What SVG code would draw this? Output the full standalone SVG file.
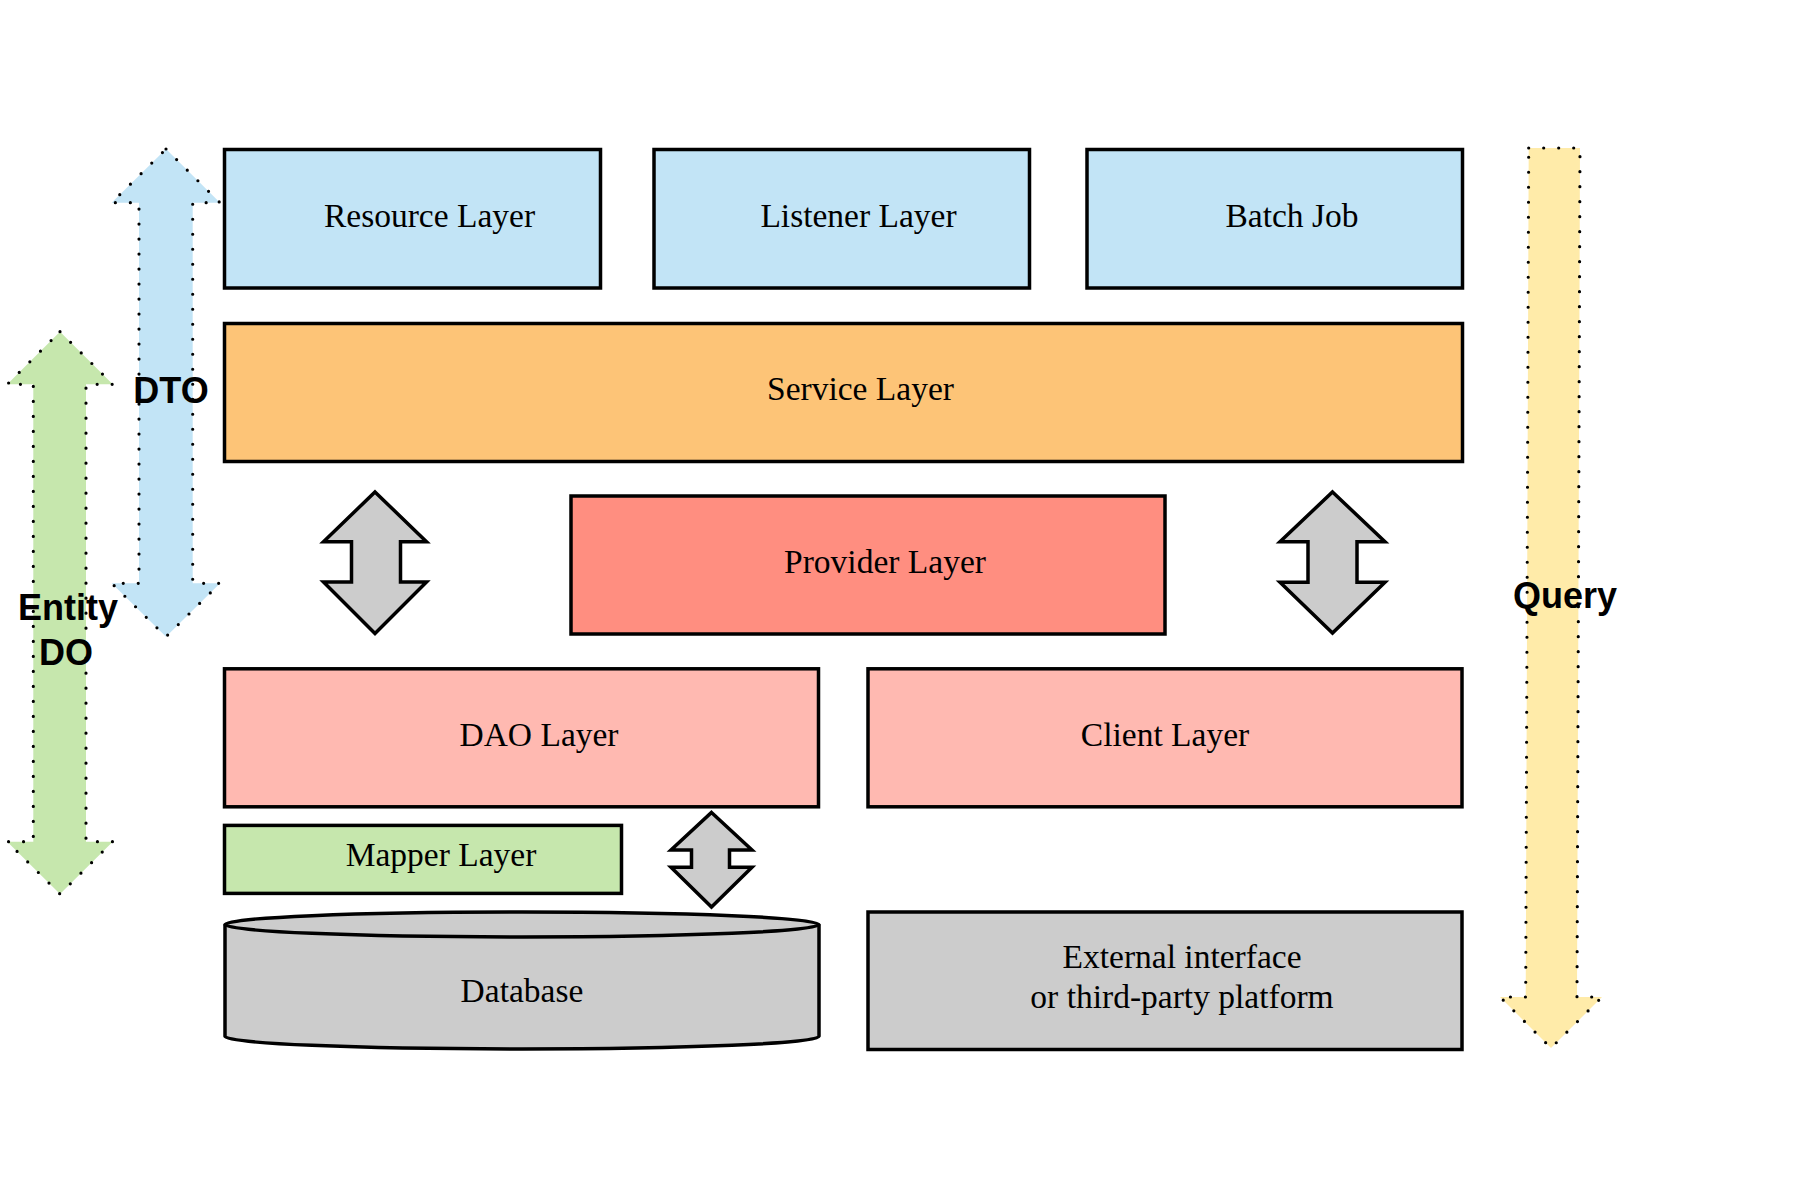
<svg xmlns="http://www.w3.org/2000/svg" width="1805" height="1180" viewBox="0 0 1805 1180">
<style>
.box{stroke:#000;stroke-width:3.5}
.lbl{font-family:"Liberation Serif","Times New Roman",serif;font-size:33.5px;fill:#000;text-anchor:middle}
.big{font-family:"Liberation Sans",Arial,sans-serif;font-size:36px;font-weight:bold;fill:#000;text-anchor:middle}
.dots{stroke:#000;stroke-width:3.2;stroke-linecap:round;stroke-dasharray:0 15;stroke-linejoin:round}
.garrow{fill:#CCCCCC;stroke:#000;stroke-width:3.5;stroke-linejoin:miter}
</style>
<rect width="1805" height="1180" fill="#FFFFFF"/>

<g id="connectors">
  <g id="entity-do-arrow">
    <polygon class="dots" fill="#C6E7AD" points="60,331.7 112.7,384.3 86,384.3 86,841.7 112.7,841.7 60,894 7.3,841.7 33.3,841.7 33.3,384.3 7.3,384.3"/>
  </g>
  <g id="dto-arrow">
    <polygon class="dots" fill="#C2E4F6" points="166,149 220,202.7 192.7,202.7 192.7,583.3 220,583.3 166,636.7 111.7,583.3 139,583.3 139,202.7 111.7,202.7"/>
  </g>
  <g id="query-arrow">
    <polygon class="dots" fill="#FFEBA9" points="1528.7,148 1580,148 1577,997 1602,997 1551,1048 1500,997 1525.7,997"/>
  </g>
  <g id="service-dao-arrow">
    <polygon class="garrow" points="375,492 426.5,541.7 400.5,541.7 400.5,582 426.5,582 375,633.5 323.5,582 351.5,582 351.5,541.7 323.5,541.7"/>
  </g>
  <g id="service-client-arrow">
    <polygon class="garrow" points="1332.5,492 1385,541.7 1357,541.7 1357,582.3 1385,582.3 1332.5,633 1280,582.3 1308,582.3 1308,541.7 1280,541.7"/>
  </g>
  <g id="dao-db-arrow">
    <polygon class="garrow" points="711.5,812.5 752,850 729.5,850 729.5,867.3 752,867.3 711.5,907 671,867.3 691.5,867.3 691.5,850 671,850"/>
  </g>
</g>

<g id="resource-layer">
  <rect class="box" x="224.5" y="149.5" width="376" height="138.5" fill="#C2E4F6"/>
  <text class="lbl" x="429.5" y="226.5">Resource Layer</text>
</g>
<g id="listener-layer">
  <rect class="box" x="654" y="149.5" width="375.5" height="138.5" fill="#C2E4F6"/>
  <text class="lbl" x="858.5" y="226.5">Listener Layer</text>
</g>
<g id="batch-job">
  <rect class="box" x="1087" y="149.5" width="375.5" height="138.5" fill="#C2E4F6"/>
  <text class="lbl" x="1292" y="226.5">Batch Job</text>
</g>
<g id="service-layer">
  <rect class="box" x="224.5" y="323.5" width="1238" height="138" fill="#FDC477"/>
  <text class="lbl" x="860.5" y="400">Service Layer</text>
</g>
<g id="provider-layer">
  <rect class="box" x="571" y="496" width="594" height="138" fill="#FF8E80"/>
  <text class="lbl" x="885" y="573">Provider Layer</text>
</g>
<g id="dao-layer">
  <rect class="box" x="224.5" y="668.8" width="594" height="138" fill="#FFB9B1"/>
  <text class="lbl" x="539" y="746">DAO Layer</text>
</g>
<g id="client-layer">
  <rect class="box" x="868" y="668.8" width="594" height="138" fill="#FFB9B1"/>
  <text class="lbl" x="1165" y="746">Client Layer</text>
</g>
<g id="mapper-layer">
  <rect class="box" x="224.5" y="825.4" width="397" height="68" fill="#C6E7AD"/>
  <text class="lbl" x="441" y="866">Mapper Layer</text>
</g>
<g id="database">
  <path class="box" fill="#CCCCCC" d="M225,924.5 A297,12.5 0 0 1 819,924.5 L819,1036.5 A297,12.5 0 0 1 225,1036.5 Z"/>
  <path class="box" fill="none" d="M225,924.5 A297,12.5 0 0 0 819,924.5"/>
  <text class="lbl" x="522" y="1002">Database</text>
</g>
<g id="external">
  <rect class="box" x="868" y="912" width="594" height="137.5" fill="#CCCCCC"/>
  <text class="lbl" x="1182" y="968">External interface</text>
  <text class="lbl" x="1182" y="1008">or third-party platform</text>
</g>

<g id="labels">
  <text class="big" x="171" y="402.5">DTO</text>
  <text class="big" x="68" y="620">Entity</text>
  <text class="big" x="66" y="665">DO</text>
  <text class="big" x="1565" y="607.5">Query</text>
</g>
</svg>
